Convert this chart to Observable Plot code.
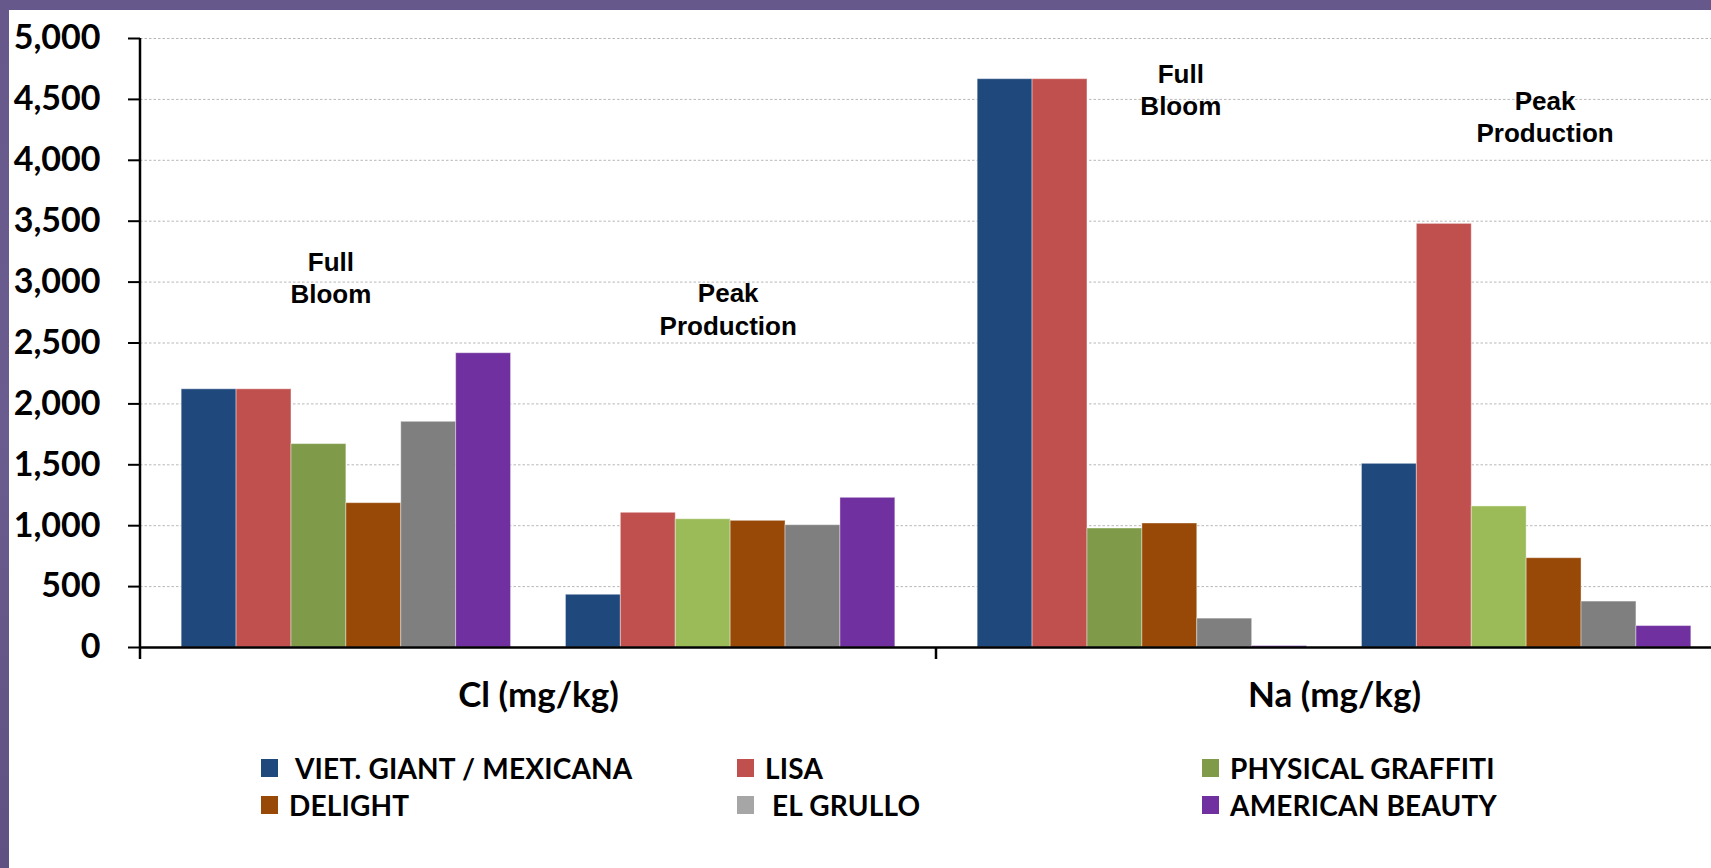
<!DOCTYPE html>
<html>
<head>
<meta charset="utf-8">
<script src="https://cdn.jsdelivr.net/npm/d3@7"></script>
<script src="https://cdn.jsdelivr.net/npm/@observablehq/plot@0.6"></script>
<style>
  html, body { margin: 0; padding: 0; width: 1711px; height: 868px; overflow: hidden; }
  body { background: linear-gradient(180deg, #66588a 0%, #6a5c8e 50%, #5f5282 100%); position: relative; }
  #panel { position: absolute; left: 9px; top: 10px; width: 1702px; height: 858px; background: #ffffff; overflow: hidden; }
  #chart { position: absolute; left: 0; top: 0; }
  #legend {
    position: absolute; left: 252px; top: 739px;
    display: grid; grid-template-columns: 476px 465px auto; grid-auto-rows: 37.5px;
    font-family: Lato, "Open Sans", sans-serif; font-weight: 700; font-size: 28px; letter-spacing: 0.2px; color: #000;
  }
  .item { display: flex; align-items: center; line-height: 1; white-space: pre; }
  .swatch { width: 17px; height: 18px; margin-right: 11px; flex: none; }
</style>
</head>
<body>
<div id="panel">
  <div id="chart"></div>
  <div id="legend"></div>
</div>
<script>
// Nutrient concentration by cultivar, at full bloom and at peak production
const elements = ["Cl (mg/kg)", "Na (mg/kg)"];
const stages = ["Full Bloom", "Peak Production"];
const varieties = ["VIET. GIANT / MEXICANA", "LISA", "PHYSICAL GRAFFITI", "DELIGHT", "EL GRULLO", "AMERICAN BEAUTY"];
const legendLabels = [" VIET. GIANT / MEXICANA", "LISA", "PHYSICAL GRAFFITI", "DELIGHT", " EL GRULLO", "AMERICAN BEAUTY"];

const clFullBloom       = [2120, 2120, 1670, 1185, 1853, 2416];
const clPeakProduction  = [433, 1106, 1053, 1040, 1004, 1229];
const naFullBloom       = [4666, 4666, 977, 1018, 237, 12];
const naPeakProduction  = [1508, 3478, 1158, 733, 377, 176];

const yTicks = [0, 500, 1000, 1500, 2000, 2500, 3000, 3500, 4000, 4500, 5000];

// Stage annotations: which cluster they sit over, the bar they hang above, and the height
const noteTexts    = ["Full\nBloom", "Peak\nProduction", "Full\nBloom", "Peak\nProduction"];
const noteElements = ["Cl (mg/kg)", "Cl (mg/kg)", "Na (mg/kg)", "Na (mg/kg)"];
const noteStages   = ["Full Bloom", "Peak Production", "Full Bloom", "Peak Production"];
const noteAnchors  = ["PHYSICAL GRAFFITI", "PHYSICAL GRAFFITI", "DELIGHT", "DELIGHT"];
const noteHeights  = [3045, 2785, 4590, 4365];

// Palette
const fullBloomColors = ["#1f497d", "#c0504d", "#7f9b4a", "#984807", "#7f7f7f", "#7030a0"];
const peakColors      = ["#1f497d", "#c0504d", "#9bbb59", "#984807", "#7f7f7f", "#7030a0"];
const legendColors    = ["#1f497d", "#c0504d", "#7f9b4a", "#984807", "#a6a6a6", "#7030a0"];
const noteNudge = [12, 25, 11, -9];

// Slots within each element cluster: six Full Bloom bars, an empty slot, six Peak Production bars
const slotKey = (stage, variety) => stage + "|" + variety;
const slots = [
  ...varieties.map(v => slotKey(stages[0], v)),
  "",
  ...varieties.map(v => slotKey(stages[1], v))
];

const series = [
  {element: elements[0], stage: stages[0], values: clFullBloom, colors: fullBloomColors},
  {element: elements[0], stage: stages[1], values: clPeakProduction, colors: peakColors},
  {element: elements[1], stage: stages[0], values: naFullBloom, colors: fullBloomColors},
  {element: elements[1], stage: stages[1], values: naPeakProduction, colors: peakColors}
];
const rows = series.flatMap(s => varieties.map((v, i) => ({
  element: s.element, stage: s.stage, variety: v,
  key: slotKey(s.stage, v), value: s.values[i], color: s.colors[i]
})));

const notes = noteTexts.map((t, i) => ({
  text: t, element: noteElements[i], key: slotKey(noteStages[i], noteAnchors[i]), value: noteHeights[i]
}));

const plot = Plot.plot({
  width: 1702,
  height: 720,
  marginLeft: 131,
  marginRight: -21,
  marginTop: 28,
  marginBottom: 83,
  style: {background: "transparent", overflow: "visible"},
  fx: {domain: elements, paddingInner: 0, paddingOuter: 0, round: false, label: null},
  x: {domain: slots, paddingInner: 0, paddingOuter: 0.75, round: false, axis: null},
  y: {domain: [0, 5000], label: null},
  color: {type: "identity"},
  marks: [
    Plot.gridY(yTicks, {stroke: "#b8b8b8", strokeOpacity: 1, strokeDasharray: "2.5,2"}),
    Plot.barY(rows, {
      fx: "element", x: "key", y: "value", fill: "color",
      stroke: "#ffffff", strokeOpacity: 0.4, strokeWidth: 1
    }),
    Plot.ruleY([0], {stroke: "#000", strokeWidth: 2.5}),
    Plot.axisY(yTicks, {
      tickSize: 12, tickPadding: 28, strokeWidth: 2,
      tickFormat: d3.format(","), label: null,
      fontSize: 34, fontWeight: 700, fontFamily: "Lato, 'Open Sans', sans-serif"
    }),
    Plot.axisFx({
      anchor: "bottom", tickSize: 0, tickPadding: 35, label: null,
      fontSize: 35, fontWeight: 700, fontFamily: "Lato, 'Open Sans', sans-serif"
    }),
    ...notes.map((n, i) => Plot.text([n], {
      fx: "element", x: "key", y: "value", text: "text",
      dx: noteNudge[i], lineAnchor: "middle", lineHeight: 1.25,
      fontSize: 26, fontWeight: 700, fontFamily: "'Liberation Sans', Arial, sans-serif", fill: "#000"
    }))
  ]
});

// Vertical axis line and the category divider ticks below the baseline, placed with the plot's own scales
const fxScale = plot.scale("fx");
const yScale = plot.scale("y");
const y0 = yScale.apply(0);
const yTop = yScale.apply(5000);
const axisLayer = d3.select(plot).append("g").attr("stroke", "#000").attr("stroke-width", 2.5);
axisLayer.append("line")
  .attr("x1", fxScale.apply(elements[0])).attr("x2", fxScale.apply(elements[0]))
  .attr("y1", yTop).attr("y2", y0 + 12);
elements.slice(1).forEach(e => {
  axisLayer.append("line")
    .attr("x1", fxScale.apply(e)).attr("x2", fxScale.apply(e))
    .attr("y1", y0).attr("y2", y0 + 12);
});

document.getElementById("chart").appendChild(plot);

// Legend: three columns, filled row by row
const legend = d3.select("#legend");
varieties.forEach((v, i) => {
  const item = legend.append("div").attr("class", "item");
  item.append("span").attr("class", "swatch").style("background", legendColors[i]);
  item.append("span").text(legendLabels[i]);
});
</script>
</body>
</html>
